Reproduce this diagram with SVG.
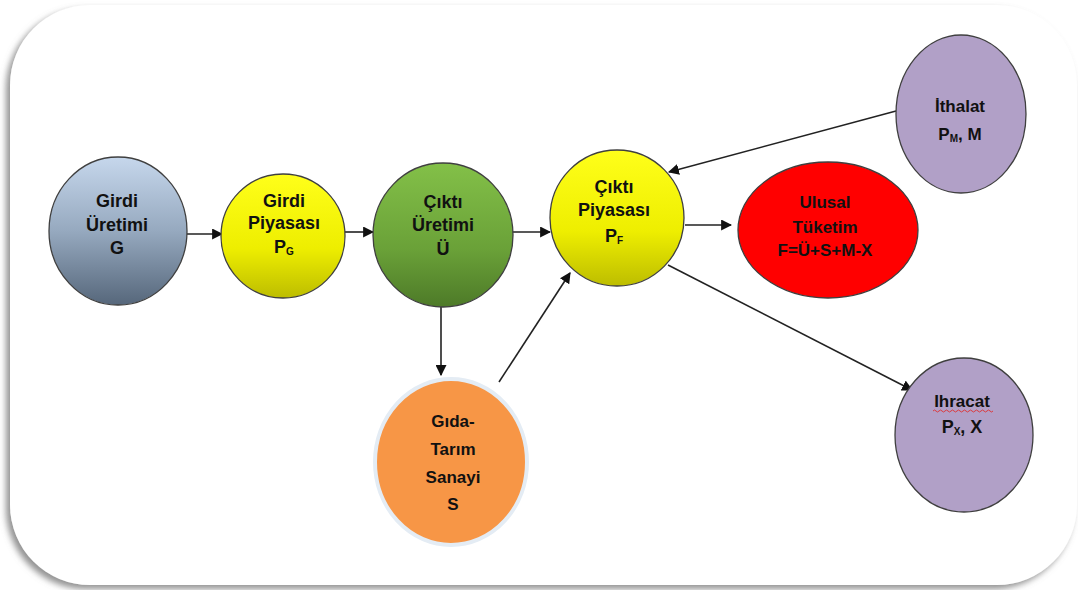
<svg xmlns="http://www.w3.org/2000/svg" width="1078" height="590" viewBox="0 0 1078 590">
<defs>
<filter id="sh" x="-5%" y="-5%" width="110%" height="112%">
<feDropShadow dx="-4" dy="4" stdDeviation="3" flood-color="#777" flood-opacity="0.8"/>
</filter>
<linearGradient id="gBlue" x1="0" y1="0" x2="0" y2="1">
<stop offset="0" stop-color="#c6d7ec"/><stop offset="0.5" stop-color="#96a9bf"/><stop offset="1" stop-color="#56677b"/>
</linearGradient>
<linearGradient id="gYel" x1="0" y1="0" x2="0" y2="1">
<stop offset="0" stop-color="#ffff1a"/><stop offset="0.6" stop-color="#eeee00"/><stop offset="1" stop-color="#bdbd00"/>
</linearGradient>
<linearGradient id="gGreen" x1="0" y1="0" x2="0" y2="1">
<stop offset="0" stop-color="#83c048"/><stop offset="0.6" stop-color="#6aa138"/><stop offset="1" stop-color="#4d7a28"/>
</linearGradient>
<marker id="ah" viewBox="0 0 10 10" refX="9" refY="5" markerWidth="11" markerHeight="11" markerUnits="userSpaceOnUse" orient="auto">
<path d="M0,0 L10,5 L0,10 z" fill="#111"/>
</marker>
<style>
.nd{stroke:#3f3f3f;stroke-width:1.3}
.t{font-family:"Liberation Sans",Arial,sans-serif;font-weight:bold;font-size:18px;fill:#111;text-anchor:middle}
.ts{font-size:17px}
.sub{font-size:10px}
.c{stroke:#222;stroke-width:1.6;fill:none;marker-end:url(#ah)}
</style>
</defs>
<rect x="0" y="0" width="1078" height="590" fill="#fff"/>
<rect x="10" y="5" width="1067" height="580" rx="80" ry="80" fill="#fff" filter="url(#sh)"/>

<g id="connectors">
<line class="c" x1="187" y1="234" x2="222" y2="234"/>
<line class="c" x1="345" y1="232" x2="373" y2="232"/>
<line class="c" x1="512" y1="232" x2="550" y2="232"/>
<line class="c" x1="685" y1="225" x2="731" y2="225"/>
<line class="c" x1="896" y1="111" x2="669" y2="172"/>
<line class="c" x1="668" y1="265" x2="912" y2="390"/>
<line class="c" x1="441" y1="307" x2="441" y2="375"/>
<line class="c" x1="499" y1="382" x2="570" y2="273"/>
</g>

<g id="girdi-uretimi">
<ellipse class="nd" cx="118" cy="231" rx="69" ry="74" fill="url(#gBlue)"/>
<text class="t" x="117" y="207">Girdi</text>
<text class="t" x="117" y="231">Üretimi</text>
<text class="t" x="117" y="254">G</text>
</g>

<g id="girdi-piyasasi">
<ellipse class="nd" cx="283" cy="236" rx="62" ry="62" fill="url(#gYel)"/>
<text class="t" x="284" y="207">Girdi</text>
<text class="t" x="284" y="229">Piyasası</text>
<text class="t" x="284" y="253">P<tspan class="sub" dy="2">G</tspan></text>
</g>

<g id="cikti-uretimi">
<ellipse class="nd" cx="443" cy="235" rx="70" ry="72" fill="url(#gGreen)"/>
<text class="t" x="443" y="208">Çıktı</text>
<text class="t" x="443" y="231">Üretimi</text>
<text class="t" x="443" y="255">Ü</text>
</g>

<g id="cikti-piyasasi">
<ellipse class="nd" cx="617" cy="218" rx="67" ry="68" fill="url(#gYel)"/>
<text class="t" x="614" y="193">Çıktı</text>
<text class="t" x="614" y="216">Piyasası</text>
<text class="t" x="614" y="242">P<tspan class="sub" dy="2">F</tspan></text>
</g>

<g id="ulusal-tuketim">
<ellipse class="nd" cx="828" cy="230" rx="90" ry="68" fill="#ff0000" stroke="#7a1010"/>
<text class="t ts" x="825" y="208">Ulusal</text>
<text class="t ts" x="825" y="233">Tüketim</text>
<text class="t ts" x="825" y="256">F=Ü+S+M-X</text>
</g>

<g id="ithalat">
<ellipse class="nd" cx="961" cy="114" rx="65" ry="79" fill="#b1a0c7"/>
<text class="t ts" x="960" y="112">İthalat</text>
<text class="t ts" x="960" y="140">P<tspan class="sub" dy="2">M</tspan><tspan dy="-2">, M</tspan></text>
</g>

<g id="ihracat">
<ellipse class="nd" cx="964" cy="435" rx="69" ry="77" fill="#b1a0c7"/>
<text class="t ts" x="962" y="407">Ihracat</text>
<path d="M933,411 q1.5,-2 3,0 t3,0 t3,0 t3,0 t3,0 t3,0 t3,0 t3,0 t3,0 t3,0 t3,0 t3,0 t3,0 t3,0 t3,0 t3,0 t3,0 t3,0 t3,0 t3,0" fill="none" stroke="#e03030" stroke-width="0.9"/>
<text class="t" x="962" y="433">P<tspan class="sub" dy="2">X</tspan><tspan dy="-2">, X</tspan></text>
</g>

<g id="gida-tarim-sanayi">
<ellipse cx="451" cy="462" rx="76" ry="83" fill="#f79646" stroke="#e4ecf4" stroke-width="4"/>
<text class="t ts" x="453" y="427">Gıda-</text>
<text class="t ts" x="453" y="455">Tarım</text>
<text class="t ts" x="453" y="483">Sanayi</text>
<text class="t ts" x="453" y="510">S</text>
</g>
</svg>
